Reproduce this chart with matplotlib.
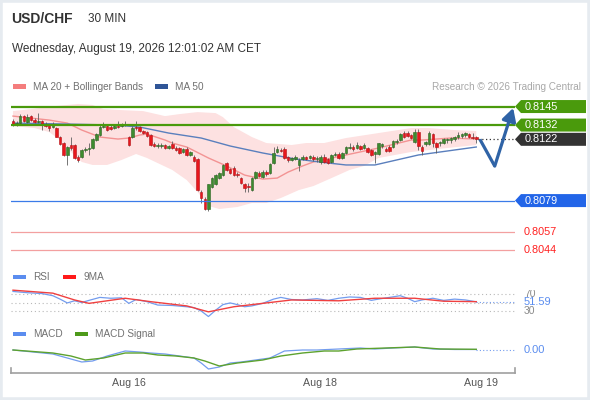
import numpy as np
import matplotlib
matplotlib.use('Agg')
import matplotlib.pyplot as plt
from matplotlib.patches import Polygon, Rectangle
from matplotlib.transforms import Bbox, TransformedBbox, blended_transform_factory

plt.rcParams['font.family'] = ['Liberation Sans', 'DejaVu Sans']

# USD/CHF, 30 min candles (bar index 0..128)
opens = [0.81348, 0.81327, 0.81334, 0.81383, 0.81341, 0.81383, 0.81355, 0.81341, 0.81348, 0.81327,
         0.81320, 0.81306, 0.81299, 0.81236, 0.81194, 0.81110, 0.81180, 0.81180, 0.81096, 0.81096,
         0.81145, 0.81152, 0.81159, 0.81215, 0.81250, 0.81306, 0.81313, 0.81306, 0.81299, 0.81313,
         0.81313, 0.81320, 0.81236, 0.81236, 0.81306, 0.81306, 0.81278, 0.81271, 0.81250, 0.81187,
         0.81173, 0.81173, 0.81180, 0.81159, 0.81187, 0.81159, 0.81159, 0.81131, 0.81152, 0.81110,
         0.81096, 0.81082, 0.80850, 0.80801, 0.80731, 0.80885, 0.80906, 0.80948, 0.80969, 0.81054,
         0.81012, 0.81019, 0.80976, 0.80948, 0.80906, 0.80892, 0.80864, 0.80948, 0.80983, 0.80955,
         0.80990, 0.80983, 0.81054, 0.81131, 0.81145, 0.81152, 0.81096, 0.81075, 0.81082, 0.81040,
         0.81082, 0.81096, 0.81089, 0.81096, 0.81082, 0.81061, 0.81096, 0.81082, 0.81061, 0.81110,
         0.81117, 0.81089, 0.81124, 0.81159, 0.81166, 0.81159, 0.81173, 0.81159, 0.81159, 0.81145,
         0.81117, 0.81117, 0.81173, 0.81152, 0.81166, 0.81166, 0.81201, 0.81215, 0.81264, 0.81264,
         0.81250, 0.81201, 0.81271, 0.81166, 0.81187, 0.81187, 0.81257, 0.81194, 0.81194, 0.81194,
         0.81215, 0.81215, 0.81222, 0.81236, 0.81243, 0.81250, 0.81257, 0.81236, 0.81236]
highs = [0.81362, 0.81348, 0.81397, 0.81390, 0.81397, 0.81390, 0.81369, 0.81404, 0.81355, 0.81341,
         0.81327, 0.81341, 0.81306, 0.81243, 0.81201, 0.81173, 0.81236, 0.81187, 0.81110, 0.81152,
         0.81166, 0.81194, 0.81229, 0.81264, 0.81327, 0.81341, 0.81327, 0.81320, 0.81327, 0.81348,
         0.81334, 0.81348, 0.81243, 0.81313, 0.81348, 0.81313, 0.81285, 0.81278, 0.81257, 0.81201,
         0.81194, 0.81194, 0.81187, 0.81180, 0.81208, 0.81173, 0.81166, 0.81159, 0.81166, 0.81138,
         0.81110, 0.81089, 0.80864, 0.80815, 0.80906, 0.80955, 0.80976, 0.80990, 0.81047, 0.81061,
         0.81019, 0.81033, 0.80990, 0.80955, 0.80913, 0.80913, 0.80955, 0.80997, 0.80997, 0.81005,
         0.81005, 0.81054, 0.81166, 0.81173, 0.81159, 0.81166, 0.81103, 0.81096, 0.81110, 0.81089,
         0.81110, 0.81103, 0.81110, 0.81110, 0.81103, 0.81110, 0.81117, 0.81089, 0.81117, 0.81131,
         0.81131, 0.81131, 0.81173, 0.81194, 0.81180, 0.81201, 0.81180, 0.81194, 0.81166, 0.81152,
         0.81138, 0.81194, 0.81194, 0.81166, 0.81180, 0.81215, 0.81222, 0.81264, 0.81278, 0.81278,
         0.81257, 0.81292, 0.81292, 0.81180, 0.81208, 0.81278, 0.81264, 0.81201, 0.81208, 0.81229,
         0.81229, 0.81236, 0.81243, 0.81271, 0.81264, 0.81271, 0.81264, 0.81264, 0.81243]
lows = [0.81313, 0.81313, 0.81327, 0.81341, 0.81334, 0.81348, 0.81334, 0.81334, 0.81285, 0.81306,
        0.81278, 0.81299, 0.81236, 0.81180, 0.81103, 0.81040, 0.81145, 0.81082, 0.81061, 0.81089,
        0.81131, 0.81110, 0.81152, 0.81208, 0.81243, 0.81299, 0.81278, 0.81285, 0.81292, 0.81299,
        0.81306, 0.81313, 0.81173, 0.81229, 0.81285, 0.81271, 0.81257, 0.81236, 0.81173, 0.81166,
        0.81159, 0.81159, 0.81152, 0.81152, 0.81152, 0.81138, 0.81117, 0.81124, 0.81103, 0.81103,
        0.81061, 0.80857, 0.80773, 0.80724, 0.80717, 0.80878, 0.80899, 0.80941, 0.80962, 0.80997,
        0.80976, 0.80962, 0.80955, 0.80906, 0.80850, 0.80850, 0.80857, 0.80941, 0.80955, 0.80948,
        0.80962, 0.80976, 0.81047, 0.81124, 0.81131, 0.81082, 0.81061, 0.81068, 0.81075, 0.80997,
        0.81075, 0.81075, 0.81082, 0.81068, 0.81061, 0.81047, 0.81054, 0.81047, 0.81054, 0.81103,
        0.81082, 0.81082, 0.81117, 0.81152, 0.81138, 0.81152, 0.81145, 0.81152, 0.81124, 0.81103,
        0.81054, 0.81110, 0.81159, 0.81131, 0.81131, 0.81159, 0.81187, 0.81208, 0.81229, 0.81236,
        0.81222, 0.81194, 0.81145, 0.81110, 0.81173, 0.81180, 0.81166, 0.81124, 0.81173, 0.81187,
        0.81194, 0.81194, 0.81208, 0.81222, 0.81229, 0.81236, 0.81229, 0.81222, 0.81194]
closes = [0.81320, 0.81334, 0.81383, 0.81348, 0.81376, 0.81355, 0.81341, 0.81348, 0.81320, 0.81313,
          0.81299, 0.81327, 0.81236, 0.81187, 0.81110, 0.81166, 0.81159, 0.81089, 0.81075, 0.81145,
          0.81152, 0.81159, 0.81222, 0.81257, 0.81306, 0.81313, 0.81285, 0.81292, 0.81313, 0.81306,
          0.81327, 0.81327, 0.81180, 0.81299, 0.81299, 0.81278, 0.81264, 0.81243, 0.81180, 0.81173,
          0.81180, 0.81180, 0.81159, 0.81173, 0.81159, 0.81145, 0.81124, 0.81152, 0.81110, 0.81131,
          0.81068, 0.80864, 0.80808, 0.80731, 0.80906, 0.80948, 0.80969, 0.80983, 0.81040, 0.81005,
          0.80983, 0.80969, 0.80969, 0.80913, 0.80878, 0.80885, 0.80948, 0.80990, 0.80962, 0.80990,
          0.80976, 0.81047, 0.81124, 0.81152, 0.81138, 0.81089, 0.81075, 0.81089, 0.81096, 0.81075,
          0.81096, 0.81082, 0.81103, 0.81082, 0.81089, 0.81096, 0.81061, 0.81054, 0.81110, 0.81117,
          0.81089, 0.81124, 0.81166, 0.81166, 0.81152, 0.81180, 0.81152, 0.81180, 0.81131, 0.81110,
          0.81131, 0.81194, 0.81187, 0.81138, 0.81138, 0.81208, 0.81208, 0.81257, 0.81236, 0.81243,
          0.81229, 0.81271, 0.81173, 0.81138, 0.81201, 0.81264, 0.81194, 0.81166, 0.81201, 0.81222,
          0.81222, 0.81229, 0.81236, 0.81250, 0.81257, 0.81264, 0.81236, 0.81229, 0.81220]

# indicators, read at a few bars
ma20_x = [0, 10, 15, 19, 24, 29, 32, 35, 37, 42, 44, 48, 54, 59, 64, 69, 73, 76, 80, 83, 92, 101, 110, 113, 121, 128]
ma20 = [0.81383, 0.81355, 0.81334, 0.81285, 0.81236, 0.81222, 0.81229, 0.81250, 0.81257, 0.81215,
        0.81194, 0.81166, 0.81089, 0.81033, 0.80969, 0.80941, 0.80948, 0.80990, 0.81033, 0.81061,
        0.81110, 0.81159, 0.81215, 0.81215, 0.81229, 0.81222]
bb_up_x = [0, 5, 12, 18, 22, 25, 30, 36, 42, 46, 51, 56, 58, 61, 66, 70, 77, 81, 86, 92, 101, 110, 115, 122, 128]
bb_up = [0.81418, 0.81432, 0.81454, 0.81468, 0.81461, 0.81432, 0.81425, 0.81418, 0.81383, 0.81397,
         0.81411, 0.81404, 0.81376, 0.81306, 0.81236, 0.81194, 0.81180, 0.81194, 0.81194, 0.81229,
         0.81264, 0.81299, 0.81299, 0.81285, 0.81278]
bb_low_x = [0, 6, 10, 13, 16, 19, 22, 26, 30, 34, 37, 44, 48, 51, 54, 57, 62, 66, 70, 74, 79, 83, 88, 93, 97, 101, 110, 120, 128]
bb_low = [0.81313, 0.81299, 0.81271, 0.81215, 0.81131, 0.81061, 0.81040, 0.81040, 0.81075, 0.81117,
          0.81089, 0.81005, 0.80934, 0.80850, 0.80752, 0.80731, 0.80745, 0.80773, 0.80773, 0.80808,
          0.80864, 0.80892, 0.80948, 0.81005, 0.81033, 0.81089, 0.81131, 0.81159, 0.81180]
ma50_x = [0, 15, 28, 35, 43, 52, 60, 69, 78, 87, 92, 100, 112, 128]
ma50 = [0.81334, 0.81327, 0.81320, 0.81306, 0.81264, 0.81229, 0.81173, 0.81124, 0.81082, 0.81054,
        0.81040, 0.81040, 0.81110, 0.81166]

rsi_x = [0, 4, 8, 11, 13, 15, 17, 19, 21, 24, 27, 30, 32, 34, 37, 40, 44, 48, 50, 52, 54, 56, 58, 60, 62,
         64, 66, 69, 72, 74, 77, 80, 84, 87, 90, 93, 96, 99, 101, 104, 107, 109, 111, 113, 116, 119, 122, 125, 128]
rsi = [76, 73, 71, 66, 58, 49, 54, 50, 55, 62, 60, 61, 48, 57, 52, 44, 43, 40, 38, 30, 17, 32, 45, 49, 45,
       40, 42, 48, 58, 62, 57, 56, 59, 55, 60, 63, 62, 55, 58, 62, 66, 60, 52, 56, 60, 55, 58, 56, 51.59]
rsi_ma_x = [0, 11, 17, 21, 31, 38, 48, 54, 61, 69, 77, 90, 100, 111, 119, 128]
rsi_ma = [79, 72, 56, 48, 60, 52, 42, 28, 40, 48, 56, 54, 60, 60, 53, 52]

macd_x = [0, 11, 15, 19, 22, 26, 31, 35, 38, 42, 46, 50, 52, 54, 57, 60, 63, 67, 71, 75,
          80, 84, 90, 96, 100, 105, 111, 116, 122, 128]
macd = [0.0, -0.00004, -0.00008, -0.00012, -0.00011, -0.00006, -0.00001, -0.00002, -0.00003, -0.00004,
        -0.00006, -0.00008, -0.00013, -0.00019, -0.00017, -0.00013, -0.00012, -0.0001, -0.00008, -0.00001,
        0.0, 0.0, 0.00001, 0.00002, 0.00001, 0.00002, 0.00003, 0.00001, 0.000005, 0.000005]
signal_x = [0, 11, 16, 20, 25, 31, 36, 40, 45, 50, 53, 57, 62, 69, 74, 80, 86, 90, 95, 103, 111, 118, 128]
signal = [0.0, -0.00003, -0.00006, -0.0001, -0.00008, -0.00003, -0.00003, -0.00005, -0.00006, -0.00008,
          -0.00011, -0.00016, -0.00013, -0.0001, -0.00006, -0.00003, -0.00001, -0.00001, 0.00001, 0.00002,
          0.00003, 0.00001, 0.000007]

tick_pos = [32.0, 84.7, 129.3]
tick_labels = ['Aug 16', 'Aug 18', 'Aug 19']

res_levels = [0.8145, 0.8132]
last_price = 0.8122
sup_level = 0.8079
red_levels = [0.8057, 0.8044]

# expected path drawn by the analyst
forecast_x = [129.0, 133.1, 138.2]
forecast_y = [0.8122, 0.81032, 0.8144]

GREEN = '#4a9a0c'
BLUE = '#2265e8'
DARK = '#333333'
RED_TXT = '#ff2020'
UP_COL = '#3d8b2f'
DOWN_COL = '#e8161c'
RSI_BLUE = '#739cee'

W, H = 590, 400
XMAX = 138.7


def rect(x0, y0, x1, y1):
    # pixel box measured from the top-left corner -> figure fraction
    return [x0 / W, 1 - y1 / H, (x1 - x0) / W, (y1 - y0) / H]


fig = plt.figure(figsize=(W / 100, H / 100), dpi=100)
fig.patch.set_facecolor('white')
fig.patches.append(Rectangle((0, 0), 1, 1, transform=fig.transFigure, fill=False,
                             edgecolor='#e6ebf0', lw=4))

# overlay in pixel units for the texts around the panels
ov = fig.add_axes([0, 0, 1, 1])
ov.set_xlim(0, W)
ov.set_ylim(H, 0)
ov.axis('off')
ov.set_autoscale_on(False)

ax = fig.add_axes(rect(11, 95, 515, 262))
ax_r = fig.add_axes(rect(11, 281.25, 515, 323.75))
ax_m = fig.add_axes(rect(11, 338, 515, 373))
for a in (ax, ax_r, ax_m):
    a.set_xlim(-0.55, XMAX)
    a.set_xticks([])
    a.set_yticks([])
    for s in a.spines.values():
        s.set_visible(False)
    a.patch.set_alpha(0)
ax.set_ylim(0.80359, 0.81531)
ax_r.set_ylim(0, 100)
ax_m.set_ylim(-0.00023, 0.00012)

# ---- price panel ----
o, h, l, c = map(np.array, (opens, highs, lows, closes))
x = np.arange(len(c))
up = c >= o

ax.fill(np.r_[bb_up_x, bb_low_x[::-1]], np.r_[bb_up, bb_low[::-1]],
        color='#fde1e1', lw=0, zorder=1)
ax.plot(ma20_x, ma20, color='#f39393', lw=1.0, zorder=2)
ax.plot(ma50_x, ma50, color='#5a7fbd', lw=1.0, zorder=2)

ax.vlines(x, l, h, color='#5e5e5e', lw=0.6, zorder=3)
ax.bar(x[up], c[up] - o[up], bottom=o[up], width=0.7, color=UP_COL,
       edgecolor='#2b6322', lw=0.4, zorder=4)
ax.bar(x[~up], c[~up] - o[~up], bottom=o[~up], width=0.7, color=DOWN_COL,
       edgecolor='#b31015', lw=0.4, zorder=4)

for v in res_levels:
    ax.axhline(v, color=GREEN, lw=1.6, zorder=5)
ax.axhline(sup_level, color='#3b7be8', lw=0.9, zorder=5)
for v in red_levels:
    ax.axhline(v, color='#f3a0a0', lw=0.9, zorder=5)
ax.plot([x[-1] + 0.6, XMAX], [last_price, last_price], color=DARK, lw=0.9,
        ls=(0, (1, 2)), zorder=5)

# forecast arrow
ax.plot(forecast_x[:2], forecast_y[:2], color='#2f63a6', lw=2.3,
        solid_joinstyle='miter', solid_capstyle='butt', zorder=6, clip_on=False)
ax.annotate('', xy=(forecast_x[2], forecast_y[2]), xytext=(forecast_x[1], forecast_y[1]),
            arrowprops=dict(arrowstyle='-|>,head_length=0.55,head_width=0.3', color='#2f63a6',
                            lw=2.3, shrinkA=0, shrinkB=0, mutation_scale=14),
            zorder=6, annotation_clip=False)

# price labels on the right
tr = blended_transform_factory(ov.transData, ax.transData)
y0, y1 = ax.get_ylim()
ph = 6.5 * (y1 - y0) / 167


def tag(v, color):
    pts = [(515, v), (521, v + ph), (586, v + ph), (586, v - ph), (521, v - ph)]
    ov.add_patch(Polygon(pts, closed=True, transform=tr, color=color, lw=0, clip_on=False))
    ov.text(525, v, f'{v:.4f}', transform=tr, va='center', ha='left',
            color='white', fontsize=7.8)


for v in res_levels:
    tag(v, GREEN)
tag(last_price, DARK)
tag(sup_level, BLUE)
for v in red_levels:
    ov.text(524, v, f'{v:.4f}', transform=tr, va='center', ha='left',
            color=RED_TXT, fontsize=7.8)

# ---- RSI panel ----
for v in (70, 50, 30):
    ax_r.axhline(v, color='#b8b8b8', lw=0.8, ls=(0, (1, 2.5)), zorder=1)
ax_r.plot(rsi_x, rsi, color=RSI_BLUE, lw=0.9, zorder=3)
ax_r.plot(rsi_ma_x, rsi_ma, color='#f04040', lw=1.0, zorder=4)
ax_r.plot([rsi_x[-1], XMAX], [rsi[-1], rsi[-1]], color=RSI_BLUE, lw=0.8,
          ls=(0, (1, 2)), zorder=2)
tr_r = blended_transform_factory(ov.transData, ax_r.transData)
# the 70 / 30 marks are half hidden in the reference
clip = TransformedBbox(Bbox.from_extents(510 / W, 1 - 315.5 / H, 1, 1 - 290 / H), fig.transFigure)
for v in (70, 30):
    t = ov.text(524, v, str(v), transform=tr_r, va='center', ha='left',
                color='#8a8a8a', fontsize=7.5)
    t.set_clip_box(clip)
    t.set_clip_on(True)
ov.text(524, rsi[-1], f'{rsi[-1]:.2f}', transform=tr_r, va='center', ha='left',
        color='#5b8def', fontsize=8)

# ---- MACD panel ----
ax_m.plot(macd_x, macd, color=RSI_BLUE, lw=0.9, zorder=3)
ax_m.plot(signal_x, signal, color='#5da22e', lw=1.0, zorder=4)
ax_m.plot([macd_x[-1], XMAX], [0, 0], color=RSI_BLUE, lw=0.8, ls=(0, (1, 2)), zorder=2)
tr_m = blended_transform_factory(ov.transData, ax_m.transData)
ov.text(524, 0, f'{macd[-1]:.2f}', transform=tr_m, va='center', ha='left',
        color='#5b8def', fontsize=8)

# time axis under the MACD panel
ax_m.spines['bottom'].set_visible(True)
ax_m.spines['bottom'].set_color('#a0a0a0')
ax_m.spines['bottom'].set_linewidth(1.2)
ax_m.set_xticks(tick_pos)
ax_m.set_xticklabels(tick_labels)
ax_m.tick_params(axis='x', length=0, pad=3.5, labelsize=7.7, labelcolor='#555555')
for xe in (0, 1):
    ax_m.plot([xe, xe], [0, 0.14], transform=ax_m.transAxes, color='#a0a0a0',
              lw=1.2, clip_on=False)

# ---- header and legends ----
ov.text(11, 19, 'USD/CHF', fontsize=10, fontweight='bold', color='#333333', va='center')
ov.text(88, 19, '30 MIN', fontsize=8.5, color='#333333', va='center')
ov.text(12, 49, 'Wednesday, August 19, 2026 12:01:02 AM CET', fontsize=8.5,
        color='#333333', va='center')


def legend_item(xp, yp, color, label, w=12.5):
    ov.add_patch(Rectangle((xp, yp - 2.2), w, 4.5, color=color, lw=0))
    ov.text(xp + w + 7.5, yp, label, fontsize=7.2, color='#707070', va='center')


legend_item(13, 86.5, '#f47d7d', 'MA 20 + Bollinger Bands')
legend_item(155, 86.5, '#2f5597', 'MA 50')
ov.text(581, 86.5, 'Research \u00a9 2026 Trading Central', fontsize=7.2,
        color='#a8a8a8', va='center', ha='right')

legend_item(13, 277, '#5b8def', 'RSI')
legend_item(63, 277, '#ff1a1a', '9MA')
legend_item(13, 334, '#5b8def', 'MACD')
legend_item(75, 334, '#4e9a1a', 'MACD Signal')

fig.savefig('out.png', dpi=100)
